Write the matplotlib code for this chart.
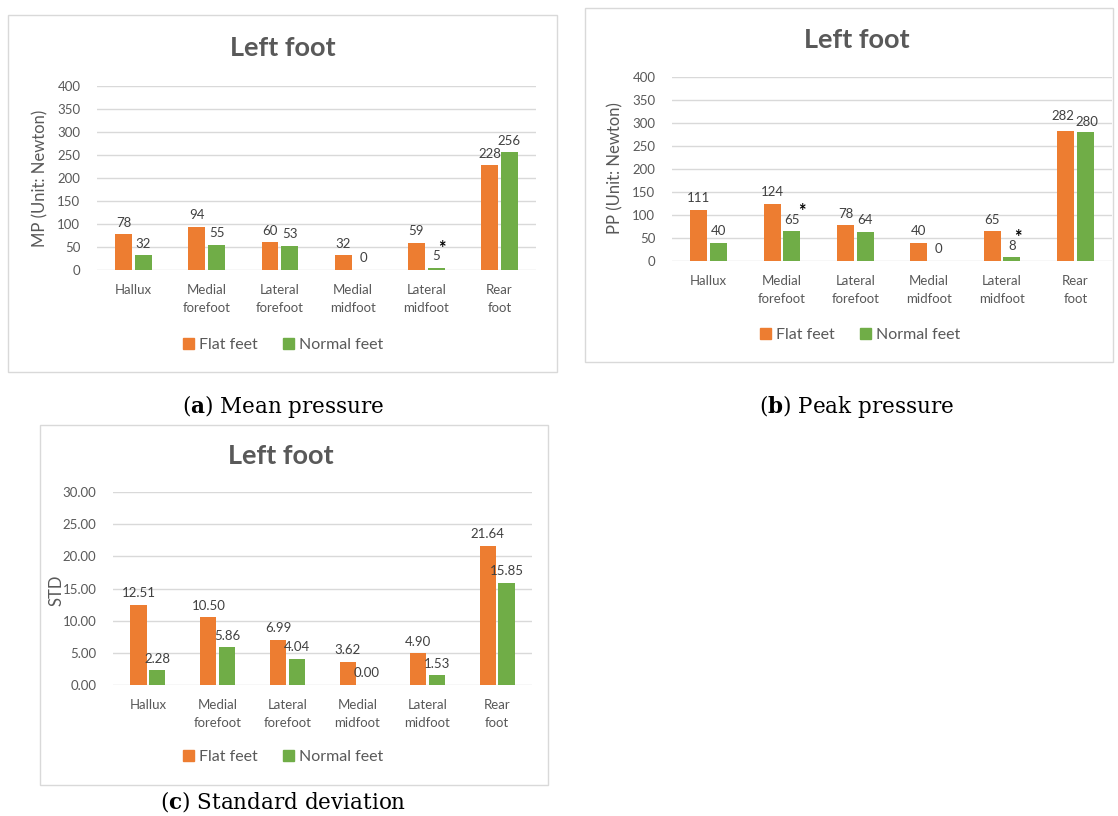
import matplotlib
matplotlib.use('Agg')
import matplotlib.pyplot as plt
from matplotlib.patches import Rectangle, Patch
import numpy as np

W, H = 1118, 816

categories = ['Hallux', 'Medial\nforefoot', 'Lateral\nforefoot',
              'Medial\nmidfoot', 'Lateral\nmidfoot', 'Rear\nfoot']
series_names = ['Flat feet', 'Normal feet']

mp_flat = [78, 94, 60, 32, 59, 228]
mp_normal = [32, 55, 53, 0, 5, 256]
mp_star = [4]

pp_flat = [111, 124, 78, 40, 65, 282]
pp_normal = [40, 65, 64, 0, 8, 280]
pp_star = [1, 4]

std_flat = [12.51, 10.50, 6.99, 3.62, 4.90, 21.64]
std_normal = [2.28, 5.86, 4.04, 0.00, 1.53, 15.85]
std_star = []

ORANGE = '#ED7D31'
GREEN = '#70AD47'
TXT = '#595959'
GRID = '#D9D9D9'
FONT = ['Lato', 'DejaVu Sans']
SERIF = ['DejaVu Serif']

plt.rcParams['mathtext.fontset'] = 'dejavuserif'

fig = plt.figure(figsize=(W / 100, H / 100), dpi=100)


def px_axes(x0, x1, y0, y1):
    return fig.add_axes([x0 / W, 1 - y1 / H, (x1 - x0) / W, (y1 - y0) / H])


def frame(x0, x1, y0, y1):
    fig.patches.append(Rectangle((x0 / W, 1 - y1 / H), (x1 - x0) / W, (y1 - y0) / H,
                                 transform=fig.transFigure, fill=False,
                                 edgecolor=GRID, linewidth=1.0))


def fig_text(x, y, s, **kw):
    fig.text(x / W, 1 - y / H, s, **kw)


def panel(ax, flat, normal, stars, ymax, step, fmt, nudge=None):
    nudge = nudge or {}
    x = np.arange(len(categories))
    w = 0.23
    off = 0.135
    ax.bar(x - off, flat, w, color=ORANGE, zorder=3)
    ax.bar(x + off, normal, w, color=GREEN, zorder=3)
    ax.set_xlim(-0.5, len(categories) - 0.5)
    ax.set_ylim(0, ymax)
    ax.set_yticks(np.arange(0, ymax + step / 2, step))
    ax.yaxis.set_major_formatter(plt.FormatStrFormatter(fmt))
    ax.set_xticks(x)
    ax.set_xticklabels(categories, linespacing=1.6)
    ax.tick_params(length=0, labelsize=9.5, labelcolor=TXT, pad=12)
    ax.tick_params(axis='x', pad=10)
    for lab in ax.get_xticklabels() + ax.get_yticklabels():
        lab.set_family(FONT)
    for s in ax.spines.values():
        s.set_visible(False)
    ax.grid(axis='y', color=GRID, linewidth=1.0, zorder=0)
    ax.set_axisbelow(True)
    ax.patch.set_alpha(0)
    for key, vals, dx in (('flat', flat, -off), ('normal', normal, off)):
        for i in range(len(categories)):
            nx, ny = nudge.get((key, i), (0, 0))
            ax.annotate(fmt % vals[i], (x[i] + dx, vals[i]), xytext=(nx, 4 + ny),
                        textcoords='offset points', ha='center', va='bottom',
                        fontsize=9.5, color='#404040', family=FONT)
    for i in stars:
        n = len(fmt % normal[i])
        ax.annotate('*', (x[i] + off, normal[i]), xytext=(1.5 + 2.9 * n, 8),
                    textcoords='offset points', ha='center', va='bottom',
                    fontsize=13, fontweight='bold', color='black', family=FONT)


def legend(ax, cx, cy):
    ax.legend(handles=[Patch(color=ORANGE), Patch(color=GREEN)], labels=series_names,
              loc='center', bbox_to_anchor=(cx / W, 1 - cy / H),
              bbox_transform=fig.transFigure, ncol=2, frameon=False,
              prop={'family': FONT, 'size': 11.5}, labelcolor=TXT,
              handlelength=0.7, handleheight=0.7, handletextpad=0.3,
              columnspacing=1.6)


def title(cx, cy):
    fig_text(cx, cy, 'Left foot', ha='center', va='center', fontsize=19.5,
             fontweight='bold', color=TXT, family=FONT)


def caption(cx, cy, s):
    fig_text(cx, cy, s, ha='center', va='center', fontsize=15.5, family=SERIF)


# (a) mean pressure
frame(8, 557, 15, 372)
ax = px_axes(97, 536, 86, 270)
panel(ax, mp_flat, mp_normal, mp_star, 400, 50, '%d')
title(283, 48)
fig_text(40, 178, 'MP (Unit: Newton)', ha='center', va='center', rotation=90,
         fontsize=12, color=TXT, family=FONT)
legend(ax, 283, 345)
caption(283, 407, r'($\mathbf{a}$) Mean pressure')

# (b) peak pressure
frame(585, 1113, 8, 362)
ax = px_axes(672, 1112, 77, 261)
panel(ax, pp_flat, pp_normal, pp_star, 400, 50, '%d',
      nudge={('flat', 5): (-1.5, 3), ('normal', 5): (1, -1)})
title(857, 40)
fig_text(615, 168, 'PP (Unit: Newton)', ha='center', va='center', rotation=90,
         fontsize=12, color=TXT, family=FONT)
legend(ax, 860, 335)
caption(857, 407, r'($\mathbf{b}$) Peak pressure')

# (c) standard deviation
frame(40, 548, 425, 785)
ax = px_axes(113, 532, 492, 685)
panel(ax, std_flat, std_normal, std_star, 30, 5, '%.2f')
title(281, 456)
fig_text(57, 590, 'STD', ha='center', va='center', rotation=90,
         fontsize=12, color=TXT, family=FONT)
legend(ax, 283, 757)
caption(283, 802, r'($\mathbf{c}$) Standard deviation')

fig.savefig('out.png', dpi=100)
